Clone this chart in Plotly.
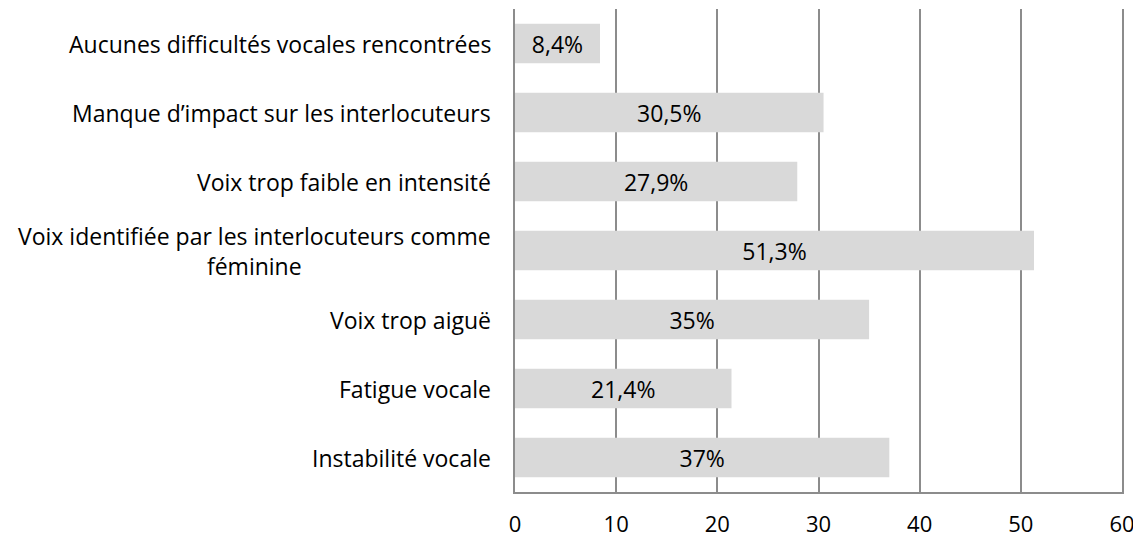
import plotly.graph_objects as go

categories = [
    "Instabilité vocale",
    "Fatigue vocale",
    "Voix trop aiguë",
    "Voix identifiée par les interlocuteurs comme<br>féminine",
    "Voix trop faible en intensité",
    "Manque d’impact sur les interlocuteurs",
    "Aucunes difficultés vocales rencontrées",
]
values = [37, 21.4, 35, 51.3, 27.9, 30.5, 8.4]
value_labels = ["37%", "21,4%", "35%", "51,3%", "27,9%", "30,5%", "8,4%"]
x_ticks = [0, 10, 20, 30, 40, 50, 60]

FONT = "Open Sans"
FS = 23
grid = "#8c8c8c"

fig = go.Figure(
    go.Bar(
        x=values,
        y=categories,
        orientation="h",
        marker=dict(color="#d9d9d9", line=dict(width=0)),
        text=value_labels,
        textposition="inside",
        insidetextanchor="middle",
        textangle=0,
        textfont=dict(family=FONT, size=FS, color="#000000"),
        width=0.57,
    )
)

for c in categories:
    fig.add_annotation(
        x=0, xref="paper", y=c, yref="y",
        text=c, showarrow=False, xanchor="right", align="center",
        xshift=-22, font=dict(family=FONT, size=FS, color="#000000"),
    )

# page body has an 8px margin, so the figure is drawn at (8, 8)
fig.update_layout(
    width=1133, height=532,
    margin=dict(l=507, r=19, t=1, b=48, autoexpand=False),
    paper_bgcolor="white", plot_bgcolor="white",
    showlegend=False,
    uniformtext=dict(mode="show", minsize=FS),
    font=dict(family=FONT, size=FS, color="#000000"),
)
fig.update_xaxes(
    range=[0, 60], tickvals=x_ticks, ticktext=[str(t) for t in x_ticks],
    showgrid=True, gridcolor=grid, gridwidth=1.5,
    showline=True, linecolor=grid, linewidth=1.5,
    zeroline=False, ticks="", ticklabelstandoff=12, automargin=False,
    tickfont=dict(family=FONT, size=22, color="#000000"),
)
fig.update_yaxes(
    categoryorder="array", categoryarray=categories,
    showticklabels=False, showgrid=False,
    showline=True, mirror=True, linecolor=grid, linewidth=1.5, ticks="",
    range=[-0.5, 6.5], automargin=False,
)

fig.write_html("out.html")
